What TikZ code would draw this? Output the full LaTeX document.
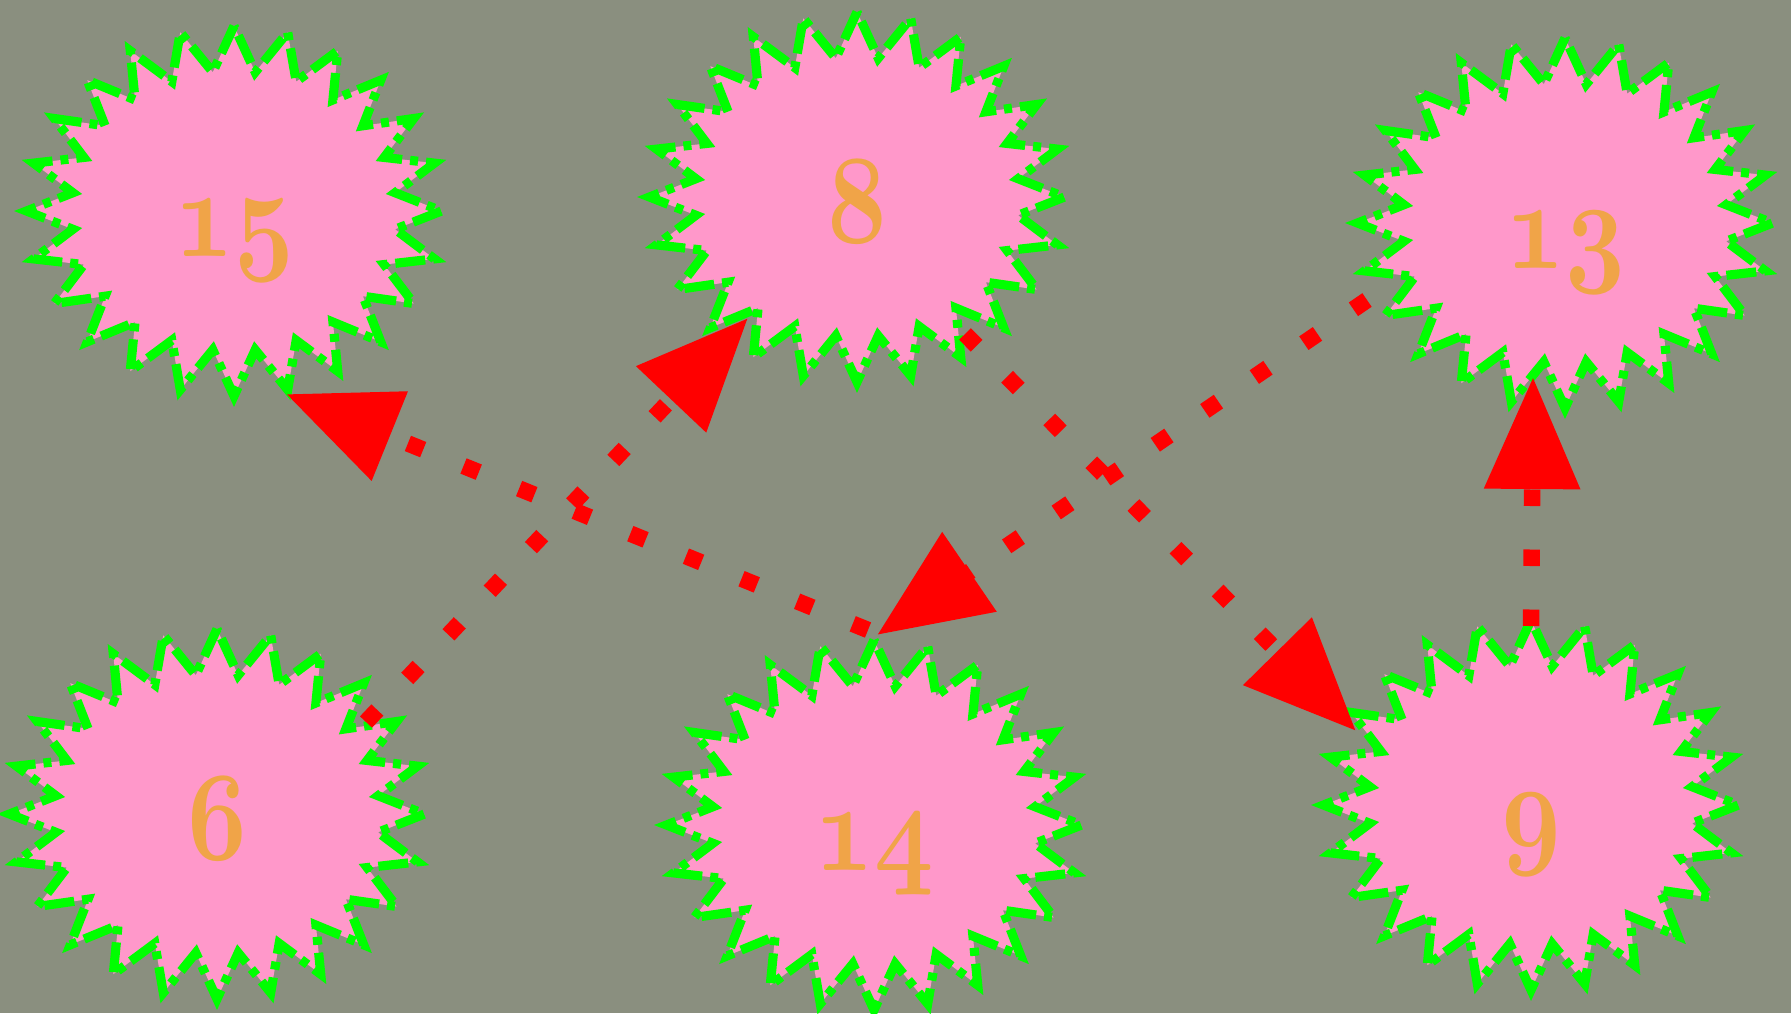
\RequirePackage{fix-cm}
\documentclass[tikz,border=0pt]{standalone}
\usepackage{graphicx}
\usetikzlibrary{calc,arrows.meta,shapes.symbols}

\definecolor{bgolive}{RGB}{138,143,127}
\definecolor{burstpink}{RGB}{255,152,202}
\definecolor{numorange}{RGB}{240,164,72}

% old-style bold figures, a bit narrowed
\newcommand{\osf}[1]{\scalebox{0.82}[1]{\usefont{OML}{cmm}{b}{it}#1}}

\begin{document}
\begin{tikzpicture}[
		line join=miter,
		burst/.style={starburst, starburst points=24, starburst point height=0.45cm,
			random starburst=0, fill=burstpink, draw=green, line width=2.6pt,
			dash pattern=on 3mm off 0.8mm on 0.8mm off 0.8mm,
			minimum width=4.15cm, minimum height=3.7cm, inner sep=0pt,
			text height=0.9cm, text depth=0pt,
			text=numorange, font=\fontsize{36}{36}\selectfont},
		link/.style={red, line width=1.65mm, dash pattern=on 1.65mm off 4.35mm,
			-{Triangle[length=11.2mm,width=9.2mm]}}
	]
	
	% Canvas
	\fill[bgolive] (0,0) rectangle (17.91,-10.13);
	\useasboundingbox (0,0) rectangle (17.91,-10.13);
	
	% Bursts
	\node[burst] (n15) at (2.34,-2.11) {\osf{15}};
	\node[burst] (n8) at (8.57,-1.97) {\osf{8}};
	\node[burst] (n13) at (15.65,-2.23) {\osf{13}};
	\node[burst] (n6) at (2.17,-8.14) {\osf{6}};
	\node[burst] (n14) at (8.74,-8.25) {\osf{14}};
	\node[burst] (n9) at (15.31,-8.05) {\osf{9}};
	
	% Links
	\draw[link] ($(n14)+(-0.06,1.95)$) -- ($(n15)+(0.52,-1.83)$);
	\draw[link] ($(n6)+(1.49,0.92)$) -- ($(n8)+(-1.09,-1.21)$);
	\draw[link] ($(n8)+(1.08,-1.37)$) -- ($(n9)+(-1.75,0.74)$);
	\draw[link] ($(n13)+(-1.98,-0.77)$) -- ($(n14)+(0.03,1.90)$);
	\draw[link] ($(n9)+(0,1.79)$) -- ($(n13)+(-0.32,-1.54)$);
	
\end{tikzpicture}
\end{document}
